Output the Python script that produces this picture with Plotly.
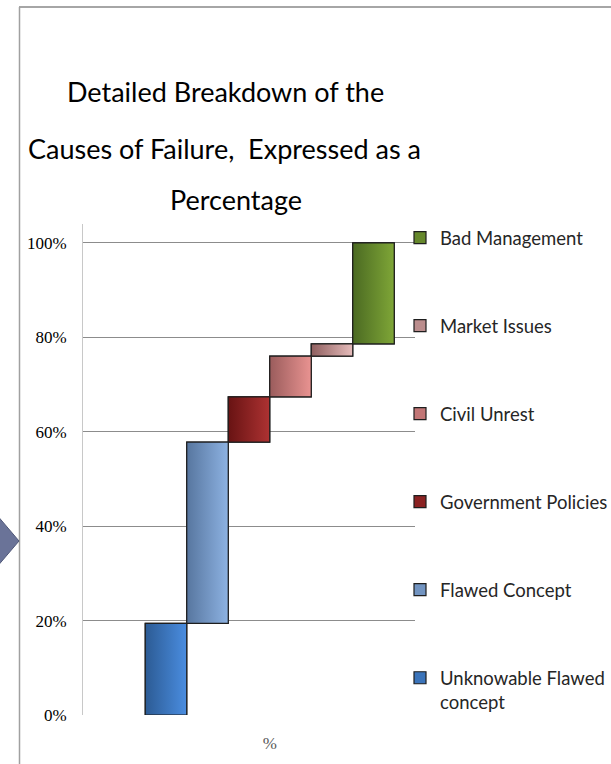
"""
Waterfall-style breakdown of the causes of failure, expressed as a percentage.
"""

import plotly.graph_objects as go

# ---- data -------------------------------------------------------------
CAUSES = ["Unknowable Flawed concept", "Flawed Concept", "Government Policies",
          "Civil Unrest", "Market Issues", "Bad Management"]
SHARES = [19.4, 38.4, 9.6, 8.6, 2.6, 21.4]  # % of failures
Y_TICKS = [0, 20, 40, 60, 80, 100]
X_LABEL = "%"
TITLE_LINES = ["Detailed Breakdown of the",
               "Causes of Failure,  Expressed as a",
               "Percentage"]

# ---- style ------------------------------------------------------------
LEFT_COLORS = ["#2c5b94", "#57769f", "#681313", "#9a5c5c", "#8f5f5f", "#4b6a22"]
RIGHT_COLORS = ["#4a8de0", "#8db2e2", "#ad3232", "#e99391", "#e6bcbb", "#7fa637"]
MID_COLORS = ["#3b74ba", "#7294c1", "#8b2222", "#c27676", "#bb8d8d", "#66882c"]
OUTLINE = "#1e1e1e"
GRID = "#8c8c8c"

WIDTH, HEIGHT = 611, 764
L, R, T, B = 83, 196, 224, 49
PW, PH = WIDTH - L - R, HEIGHT - T - B

TEXT_FONT = "Lato, Open Sans, sans-serif"
TICK_FONT = "Liberation Serif, Times New Roman, serif"
TITLE_POS = [(225, 92), (224, 149), (236, 199)]  # centre of each title line, px


def px_x(px):
    return (px - L) / PW


def px_y(py):
    return (T + PH - py) / PH


fig = go.Figure()

base = 0.0
for i, (name, share) in enumerate(zip(CAUSES, SHARES)):
    bottom, top = base / 100, (base + share) / 100
    label = name.replace("Flawed concept", "Flawed<br>concept")
    fig.add_trace(go.Bar(x=[i], y=[share / 100], base=[bottom], width=1,
                         name=label, legendgroup=name, legendrank=100 - i,
                         marker_color=MID_COLORS[i],
                         marker_line=dict(color=OUTLINE, width=1.2),
                         hovertemplate=name + ": %{y:.1%}<extra></extra>"))
    # gradient fill on top of the bar
    fig.add_trace(go.Scatter(x=[i - 0.5, i + 0.5, i + 0.5, i - 0.5, i - 0.5],
                             y=[bottom, bottom, top, top, bottom],
                             mode="lines", fill="toself",
                             fillgradient=dict(type="horizontal",
                                               colorscale=[[0, LEFT_COLORS[i]],
                                                           [1, RIGHT_COLORS[i]]]),
                             line=dict(color=OUTLINE, width=1.2),
                             showlegend=False, legendgroup=name,
                             hoverinfo="skip"))
    base += share

# title, one annotation per line so the line spacing matches
annotations = [dict(text=line, xref="paper", yref="paper",
                    x=px_x(cx), y=px_y(cy), xanchor="center", yanchor="middle",
                    showarrow=False,
                    font=dict(family=TEXT_FONT, size=27, color="black"))
               for line, (cx, cy) in zip(TITLE_LINES, TITLE_POS)]

# frame lines and the chevron on the left edge
shapes = [
    dict(type="line", xref="paper", yref="paper",
         x0=px_x(19), x1=px_x(WIDTH + 5), y0=px_y(7), y1=px_y(7),
         line=dict(color="#a6a6a6", width=2)),
    dict(type="line", xref="paper", yref="paper",
         x0=px_x(19.5), x1=px_x(19.5), y0=px_y(7), y1=px_y(HEIGHT + 5),
         line=dict(color="#a0a0a0", width=1.5)),
    dict(type="path", xref="paper", yref="paper",
         path="M {} {} L {} {} L {} {} L {} {} Z".format(
             px_x(-4), px_y(514), px_x(19), px_y(541),
             px_x(-4), px_y(568), px_x(-30), px_y(541)),
         fillcolor="#6a7398", line=dict(color="#4f5778", width=1)),
]

fig.update_layout(
    width=WIDTH, height=HEIGHT,
    margin=dict(l=L, r=R, t=T, b=B, autoexpand=False),
    paper_bgcolor="white", plot_bgcolor="white",
    barmode="overlay",
    xaxis=dict(range=[-2, 6], tickvals=[2.5], ticktext=[X_LABEL],
               showgrid=False, zeroline=False, showline=False, ticks="",
               ticklabelstandoff=16,
               tickfont=dict(family=TICK_FONT, size=17, color="#595959"),
               fixedrange=True),
    yaxis=dict(range=[0, 1.04], tickvals=[v / 100 for v in Y_TICKS],
               tickformat=".0%", showgrid=True, gridcolor=GRID, gridwidth=1,
               zeroline=False, showline=True, linecolor="#c8c8c8", linewidth=1,
               ticks="", ticklabelstandoff=12,
               tickfont=dict(family=TICK_FONT, size=17, color="black"),
               fixedrange=True),
    legend=dict(x=px_x(400), xanchor="left", y=px_y(219), yanchor="top",
                traceorder="grouped", tracegroupgap=61, maxheight=600,
                valign="top", bgcolor="rgba(0,0,0,0)",
                font=dict(family=TEXT_FONT, size=18.5, color="#262626")),
    annotations=annotations,
    shapes=shapes,
)

# the page body has a default margin; drop it so the figure fills the window
fig.write_html("out.html", config={"displayModeBar": False},
               post_script="document.body.style.margin='0px';")
